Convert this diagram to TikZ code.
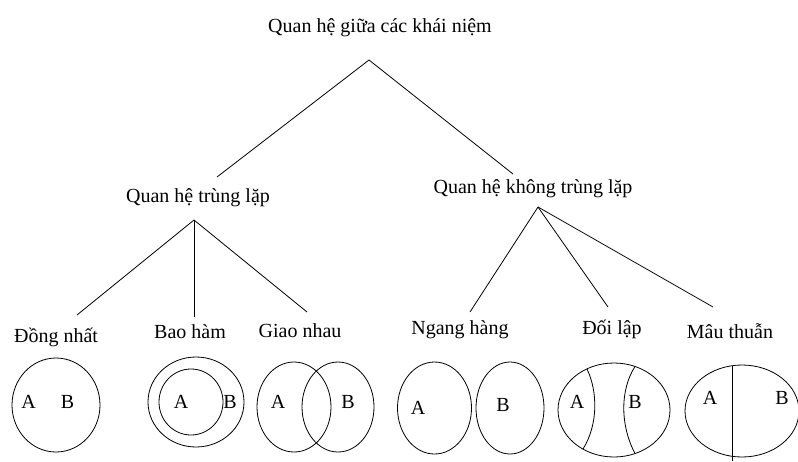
\documentclass[tikz,border=0pt]{standalone}
\usepackage{fontspec}
\setmainfont{Liberation Serif}
\begin{document}
\begin{tikzpicture}[x=1pt,y=-1pt,
  lbl/.style={inner sep=0pt,anchor=base,font=\fontsize{20}{24}\selectfont},
  ln/.style={line width=0.8pt},
  ov/.style={line width=0.8pt}]
\useasboundingbox (0,0) rectangle (798,461);
\fill[white] (0,0) rectangle (798,461);
% texts
\node[lbl] (root) at (380,32) {Quan hệ giữa các khái niệm};
\node[lbl] (trung) at (198,202) {Quan hệ trùng lặp};
\node[lbl] (khong) at (533,193) {Quan hệ không trùng lặp};
\node[lbl] (dong) at (56,342) {Đồng nhất};
\node[lbl] (bao) at (190,338) {Bao hàm};
\node[lbl] (giao) at (300,337) {Giao nhau};
\node[lbl] (ngang) at (460,334) {Ngang hàng};
\node[lbl] (doi) at (612,334) {Đối lập};
\node[lbl] (mau) at (730,338) {Mâu thuẫn};
% connectors
\coordinate (apex) at (369,60);
\coordinate (e1) at (217,177);
\coordinate (e2) at (513,174);
\coordinate (ap1) at (194,220);
\coordinate (f1) at (77,315);
\coordinate (f2) at (194,317);
\coordinate (f3) at (307,312);
\coordinate (ap2) at (538,207);
\coordinate (g1) at (470,312);
\coordinate (g2) at (608,307);
\coordinate (g3) at (713,307);
\draw[ln] (e1) -- (apex) -- (e2);
\draw[ln] (ap1) -- (f1);
\draw[ln] (ap1) -- (f2);
\draw[ln] (ap1) -- (f3);
\draw[ln] (ap2) -- (g1);
\draw[ln] (ap2) -- (g2);
\draw[ln] (ap2) -- (g3);
% Dong nhat
\draw[ov] (56,405) ellipse [x radius=44, y radius=47];
\node[lbl] (a1) at (28.5,408) {A};
\node[lbl] (b1) at (67.5,408) {B};
% Bao ham
\draw[ov] (196,402) ellipse [x radius=48, y radius=45];
\draw[ov] (191,402) ellipse [x radius=32, y radius=33];
\node[lbl] (a2) at (181,408) {A};
\node[lbl] (b2) at (230,408) {B};
% Giao nhau
\draw[ov] (294,407) ellipse [x radius=37, y radius=45];
\draw[ov] (338,407) ellipse [x radius=36, y radius=45];
\node[lbl] (a3) at (278,408) {A};
\node[lbl] (b3) at (348,408) {B};
% Ngang hang
\draw[ov] (434.5,408) ellipse [x radius=37, y radius=46];
\draw[ov] (510,408) ellipse [x radius=34, y radius=46];
\node[lbl] (a4) at (418,414) {A};
\node[lbl] (b4) at (503,411) {B};
% Doi lap
\draw[ov] (614,410) ellipse [x radius=56, y radius=47];
\draw[ov] (587,369) .. controls (598,392) and (598,425) .. (583,449);
\draw[ov] (635,366.5) .. controls (620,390) and (620,425) .. (635,453.5);
\node[lbl] (a5) at (577,408) {A};
\node[lbl] (b5) at (635,408) {B};
% Mau thuan
\draw[ov] (742,411) ellipse [x radius=57, y radius=46];
\draw[ov] (732,365.7) -- (732,461);
\node[lbl] (a6) at (710,404) {A};
\node[lbl] (b6) at (782,404) {B};
\end{tikzpicture}
\end{document}
